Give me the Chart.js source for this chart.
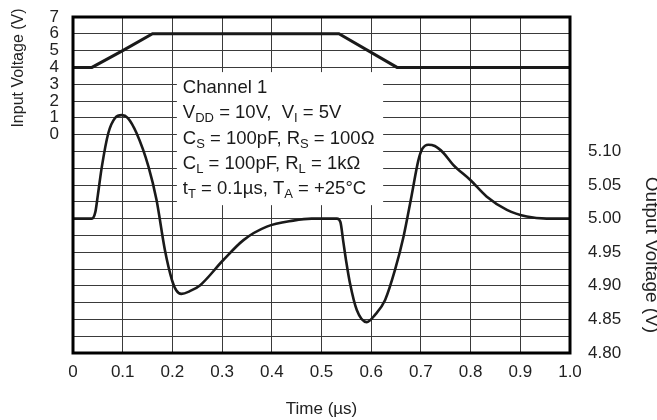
<!DOCTYPE html>
<html>
<head>
<meta charset="utf-8">
<script src="https://cdn.jsdelivr.net/npm/chart.js@4/dist/chart.umd.min.js"></script>
<style>
  html, body { margin: 0; padding: 0; background: #fff; }
</style>
</head>
<body>
<canvas id="chart" width="657" height="420"></canvas>
<script>
// Input trace (left axis, V)
const inTime = [0, 0.038, 0.1, 0.16, 0.535, 0.652, 1.0];
const inVolt = [4, 4, 5, 6, 6, 4, 4];

// Output trace (right axis, V)
const outTime = [
  0, 0.038, 0.045, 0.05, 0.058, 0.071, 0.085, 0.098, 0.11, 0.128,
  0.152, 0.168, 0.185, 0.199, 0.208, 0.218, 0.235, 0.256, 0.302, 0.343,
  0.39, 0.443, 0.48, 0.531, 0.538, 0.544, 0.55, 0.557, 0.571, 0.591,
  0.608, 0.628, 0.648, 0.665, 0.681, 0.695, 0.703, 0.715, 0.728, 0.745,
  0.765, 0.8, 0.832, 0.873, 0.913, 0.953, 1.0,
];
const outVolt = [
  5.0, 5.0, 5.01, 5.035, 5.077, 5.127, 5.15, 5.154, 5.15, 5.127,
  5.077, 5.028, 4.953, 4.909, 4.893, 4.888, 4.892, 4.901, 4.938, 4.968,
  4.988, 4.997, 5.0, 5.0, 4.995, 4.965, 4.935, 4.905, 4.864, 4.846,
  4.857, 4.879, 4.924, 4.973, 5.033, 5.087, 5.104, 5.11, 5.108, 5.098,
  5.08, 5.057, 5.033, 5.013, 5.003, 5.0, 5.0,
];

const leftTitle = 'Input Voltage (V)';
const rightTitle = 'Output Voltage (V)';

// Conditions box text, segments: [text, subscript?]
const noteLines = [
  [['Channel 1', false]],
  [['V', false], ['DD', true], [' = 10V,  V', false], ['I', true], [' = 5V', false]],
  [['C', false], ['S', true], [' = 100pF, R', false], ['S', true], [' = 100\u03A9', false]],
  [['C', false], ['L', true], [' = 100pF, R', false], ['L', true], [' = 1k\u03A9', false]],
  [['t', false], ['T', true], [' = 0.1\u00B5s, T', false], ['A', true], [' = +25\u00B0C', false]],
];

const FONT = '"Liberation Sans", Arial, sans-serif';
const INK = '#1a1a1a';

const notePlugin = {
  id: 'note',
  beforeDatasetsDraw(chart) {
    const { ctx, scales } = chart;
    const x0 = scales.x.getPixelForValue(0.209);
    const x1 = scales.x.getPixelForValue(0.624);
    const y0 = scales.yIn.getPixelForValue(3.72);
    const y1 = scales.yIn.getPixelForValue(-4.2);
    ctx.save();
    ctx.fillStyle = '#fff';
    ctx.fillRect(x0, y0, x1 - x0, y1 - y0);

    ctx.fillStyle = INK;
    ctx.textBaseline = 'alphabetic';
    const left = x0 + 6;
    let base = y0 + 21;
    noteLines.forEach((line) => {
      let x = left;
      line.forEach(([txt, sub]) => {
        ctx.font = (sub ? '13px ' : '18.5px ') + FONT;
        ctx.fillText(txt, x, sub ? base + 4 : base);
        x += ctx.measureText(txt).width;
      });
      base += 25.3;
    });
    ctx.restore();
  },
  afterDraw(chart) {
    const { ctx, chartArea: a } = chart;
    ctx.save();
    ctx.strokeStyle = '#000';
    ctx.lineWidth = 3;
    ctx.strokeRect(a.left, a.top, a.right - a.left, a.bottom - a.top);

    // vertical axis titles sit near the top of the plot, not centred
    ctx.fillStyle = '#222';
    ctx.textAlign = 'center';
    ctx.textBaseline = 'middle';
    ctx.font = '16px ' + FONT;
    ctx.save();
    ctx.translate(19, 68);
    ctx.rotate(-Math.PI / 2);
    ctx.fillText(leftTitle, 0, 0);
    ctx.restore();
    ctx.font = '19px ' + FONT;
    ctx.translate(651, 255);
    ctx.rotate(Math.PI / 2);
    ctx.fillText(rightTitle, 0, 0);
    ctx.restore();
  },
};

const gridColor = '#3a3a3a';

// fixed axis boxes so the plot area lands where the reference has it
const fixWidth = (w) => (s) => {
  s.width = w;
  s.paddingTop = 0;
  s.paddingBottom = 0;
};

new Chart(document.getElementById('chart'), {
  type: 'line',
  data: {
    datasets: [
      {
        label: 'Input',
        data: inTime.map((t, i) => ({ x: t, y: inVolt[i] })),
        yAxisID: 'yIn',
        borderColor: INK,
        borderWidth: 3,
        pointRadius: 0,
        tension: 0,
      },
      {
        label: 'Output',
        data: outTime.map((t, i) => ({ x: t, y: outVolt[i] })),
        yAxisID: 'yOut',
        borderColor: INK,
        borderWidth: 2.6,
        pointRadius: 0,
        cubicInterpolationMode: 'monotone',
      },
    ],
  },
  options: {
    responsive: false,
    animation: false,
    devicePixelRatio: 1,
    layout: { padding: { top: 17, left: 0, right: 0, bottom: 0 } },
    plugins: {
      legend: { display: false },
      tooltip: { enabled: false },
    },
    scales: {
      x: {
        type: 'linear',
        min: 0,
        max: 1,
        afterFit: (s) => { s.height = 67; },
        grid: { color: gridColor, lineWidth: 1, drawTicks: false },
        border: { display: false },
        ticks: {
          stepSize: 0.1,
          autoSkip: false,
          padding: 9,
          color: '#222',
          font: { family: FONT, size: 17 },
          callback: (v) => (v === 0 ? '0' : v.toFixed(1)),
        },
        title: {
          display: true,
          text: 'Time (\u00B5s)',
          color: '#222',
          font: { family: FONT, size: 17, lineHeight: 1.2 },
          padding: { top: 0, bottom: 0 },
        },
      },
      yIn: {
        type: 'linear',
        position: 'left',
        min: -13,
        max: 7,
        afterFit: fixWidth(73),
        grid: { color: gridColor, lineWidth: 1, drawTicks: false },
        border: { display: false },
        ticks: {
          stepSize: 1,
          autoSkip: false,
          padding: 14,
          color: '#222',
          font: { family: FONT, size: 17, lineHeight: 1 },
          callback: (v) => (v >= 0 ? String(v) : ''),
        },
      },
      yOut: {
        type: 'linear',
        position: 'right',
        min: 4.8,
        max: 5.3,
        afterFit: fixWidth(87),
        grid: { display: false, drawTicks: false },
        border: { display: false },
        ticks: {
          stepSize: 0.05,
          autoSkip: false,
          padding: 18,
          color: '#222',
          font: { family: FONT, size: 17 },
          callback: (v) => (v <= 5.101 ? v.toFixed(2) : ''),
        },
      },
    },
  },
  plugins: [notePlugin],
});
</script>
</body>
</html>
